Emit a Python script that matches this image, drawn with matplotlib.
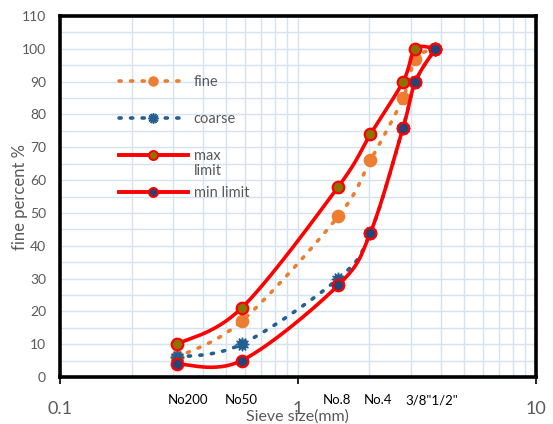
import numpy as np
import matplotlib
matplotlib.use("Agg")
import matplotlib.pyplot as plt
from matplotlib.lines import Line2D
from matplotlib import transforms

plt.rcParams['font.family'] = ['Lato', 'DejaVu Sans']

# ---- data ----
sieve_size = [0.31, 0.58, 1.48, 2.02, 2.77, 3.12, 3.79]
fine = [6, 17, 49, 66, 85, 97, 100]
coarse = [6, 10, 30, 44, 76, 90, 100]
max_limit = [10, 21, 58, 74, 90, 100, 100]
min_limit = [4, 5, 28, 44, 76, 90, 100]
sieve_labels = ["No200", "No50", "No.8", "No.4", '3/8"1/2"']
sieve_label_pos = [0.345, 0.577, 1.46, 2.17, 3.67]
y_ticks = list(range(0, 111, 10))


def smooth(xs, ys, n=30):
    """Excel-like smoothed line (uniform Catmull-Rom) in log-x space."""
    lx = np.log10(np.asarray(xs, float))
    y = np.asarray(ys, float)
    P = np.column_stack([lx, y])
    P = np.vstack([P[0], P, P[-1]])
    out = []
    t = np.linspace(0, 1, n)
    for i in range(1, len(P) - 2):
        p0, p1, p2, p3 = P[i - 1], P[i], P[i + 1], P[i + 2]
        c1 = p1 + (p2 - p0) / 6.0
        c2 = p2 - (p3 - p1) / 6.0
        seg = (((1 - t) ** 3)[:, None] * p1 + (3 * (1 - t) ** 2 * t)[:, None] * c1
               + (3 * (1 - t) * t ** 2)[:, None] * c2 + (t ** 3)[:, None] * p2)
        out.append(seg if i == 1 else seg[1:])
    out = np.vstack(out)
    return 10 ** out[:, 0], out[:, 1]


fig = plt.figure(figsize=(5.53, 4.24), dpi=100)
ax = fig.add_axes([0.1085, 0.1108, 0.8602, 0.8515])
ax.set_xscale('log')
ax.set_xlim(0.1, 10)
ax.set_ylim(0, 110)

grid_c = '#D5E3F1'
ax.set_yticks(y_ticks)
ax.set_yticks(np.arange(5, 110, 10), minor=True)
ax.grid(True, which='both', color=grid_c, linewidth=1.0)
ax.set_axisbelow(True)

orange = '#ED7D31'
blue = '#255E91'
red = '#FF0000'
olive = '#8C7200'
navy = '#264478'

dot = (0, (0.6, 2.6))
ms = 8.3
# fine
sx, sy = smooth(sieve_size, fine)
ax.plot(sx, sy, color=orange, lw=2.6, ls=dot, dash_capstyle='round', zorder=3)
ax.plot(sieve_size, fine, ls='none', marker='o', ms=ms + 0.5, color=orange, zorder=3)
# coarse
sx, sy = smooth(sieve_size, coarse)
ax.plot(sx, sy, color=blue, lw=2.6, ls=dot, dash_capstyle='round', zorder=4)
ax.plot(sieve_size, coarse, ls='none', marker=(12, 1, 0), ms=ms + 1.5, color=blue, zorder=4)
# max limit
sx, sy = smooth(sieve_size, max_limit)
ax.plot(sx, sy, color=red, lw=2.6, zorder=5)
ax.plot(sieve_size, max_limit, ls='none', marker='o', ms=ms, mfc=olive, mec=red, mew=1.6, zorder=5)
# min limit
sx, sy = smooth(sieve_size, min_limit)
ax.plot(sx, sy, color=red, lw=2.6, zorder=6)
ax.plot(sieve_size, min_limit, ls='none', marker='o', ms=ms, mfc=navy, mec=red, mew=1.6, zorder=6)

for s in ax.spines.values():
    s.set_linewidth(2.6)
    s.set_color('black')

gray = '#595959'
ax.tick_params(axis='y', which='both', length=0, labelsize=10, labelcolor=gray, pad=10)
ax.tick_params(axis='x', which='major', length=5, width=1.2, labelsize=13, labelcolor=gray, pad=12)
ax.tick_params(axis='x', which='minor', length=0)
ax.set_xticks([0.1, 1, 10])
ax.set_xticklabels(['0.1', '1', '10'])

ax.set_ylabel('fine percent %', color=gray, fontsize=12)
ax.yaxis.set_label_coords(-0.068, 0.50)
ax.set_xlabel('Sieve size(mm)', color=gray, fontsize=11.5)
ax.xaxis.set_label_coords(0.499, -0.09)

trans = transforms.blended_transform_factory(ax.transData, ax.transAxes)
for lab, xp in zip(sieve_labels, sieve_label_pos):
    ax.text(xp, -0.064, lab, transform=trans, ha='center', va='center',
            fontsize=9.5, color='black', zorder=10)

lms = 6.5
handles = [
    Line2D([], [], color=orange, lw=2.6, ls=dot, dash_capstyle='round', marker='o', ms=lms),
    Line2D([], [], color=blue, lw=2.6, ls=dot, dash_capstyle='round', marker=(12, 1, 0), ms=lms + 1),
    Line2D([], [], color=red, lw=2.8, marker='o', ms=lms, mfc=olive, mec=red, mew=1.4),
    Line2D([], [], color=red, lw=2.8, marker='o', ms=lms, mfc=navy, mec=red, mew=1.4),
]
leg = ax.legend(handles, ['fine', 'coarse', 'max', 'min limit'],
                loc='upper left', bbox_to_anchor=(0.108, 0.856), frameon=False,
                fontsize=10.5, handlelength=4.75, handletextpad=0.4, labelspacing=1.58,
                borderpad=0, labelcolor=gray)

# second line of the wrapped "max limit" legend label
fig.canvas.draw()
max_txt = leg.get_texts()[2]
bb = max_txt.get_window_extent()
fig.text(bb.x0 / fig.bbox.width, (bb.y0 - 15) / fig.bbox.height, 'limit',
         color=gray, fontsize=10.5, ha='left', va='bottom')

fig.savefig('out.png', dpi=100)
